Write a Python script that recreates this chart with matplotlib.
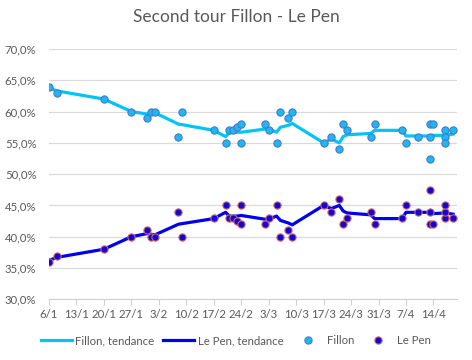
import pandas as pd
import matplotlib
matplotlib.use('Agg')
import matplotlib.pyplot as plt
import matplotlib.dates as mdates
from matplotlib.lines import Line2D
from matplotlib.ticker import FuncFormatter

# polls (one row per poll)
poll_dates = ['2017-01-06', '2017-01-08', '2017-01-20', '2017-01-27', '2017-01-31',
              '2017-02-01', '2017-02-02', '2017-02-08', '2017-02-09', '2017-02-17',
              '2017-02-20', '2017-02-21', '2017-02-22', '2017-02-23', '2017-02-24',
              '2017-02-24', '2017-03-02', '2017-03-03', '2017-03-05', '2017-03-06',
              '2017-03-08', '2017-03-09', '2017-03-17', '2017-03-19', '2017-03-21',
              '2017-03-22', '2017-03-23', '2017-03-29', '2017-03-30', '2017-04-06',
              '2017-04-07', '2017-04-10', '2017-04-13', '2017-04-13', '2017-04-13',
              '2017-04-14', '2017-04-17', '2017-04-17', '2017-04-17', '2017-04-19']
fillon = [64, 63, 62, 60, 59, 60, 60, 56, 60, 57,
          55, 57, 57, 57.5, 58, 55, 58, 57, 55, 60,
          59, 60, 55, 56, 54, 58, 57, 56, 58, 57,
          55, 56, 58, 56, 52.5, 58, 57, 56, 55, 57]
lepen = [36, 37, 38, 40, 41, 40, 40, 44, 40, 43,
         45, 43, 43, 42.5, 42, 45, 42, 43, 45, 40,
         41, 40, 45, 44, 46, 42, 43, 44, 42, 43,
         45, 44, 42, 44, 47.5, 42, 43, 44, 45, 43]

# trend (one value per poll date)
trend_dates = ['2017-01-06', '2017-01-08', '2017-01-20', '2017-01-27', '2017-01-31',
               '2017-02-01', '2017-02-02', '2017-02-08', '2017-02-09', '2017-02-17',
               '2017-02-20', '2017-02-21', '2017-02-22', '2017-02-23', '2017-02-24',
               '2017-03-02', '2017-03-03', '2017-03-05', '2017-03-06', '2017-03-08',
               '2017-03-09', '2017-03-17', '2017-03-19', '2017-03-21', '2017-03-22',
               '2017-03-23', '2017-03-29', '2017-03-30', '2017-04-06', '2017-04-07',
               '2017-04-10', '2017-04-13', '2017-04-14', '2017-04-17', '2017-04-19']
fillon_trend = [63.8, 63.3, 62.0, 60.0, 59.6, 59.7, 59.8, 58.0, 57.9, 57.0,
                56.0, 56.6, 56.7, 56.7, 56.7, 57.2, 57.2, 56.7, 57.5, 57.8,
                58.1, 55.0, 55.6, 55.0, 56.0, 56.3, 56.5, 57.0, 57.0, 56.1,
                56.1, 56.1, 56.2, 56.2, 56.4]
lepen_trend = [36.2, 36.7, 38.0, 40.0, 40.5, 40.4, 40.3, 42.0, 42.1, 42.9,
               43.9, 43.3, 43.3, 43.3, 43.4, 42.8, 42.8, 43.3, 42.6, 42.2,
               41.9, 45.0, 44.5, 45.0, 44.1, 43.8, 43.5, 42.9, 42.9, 43.9,
               43.9, 43.9, 43.7, 43.8, 43.6]

title = 'Second tour Fillon - Le Pen'
c_fillon = '#00C4F8'
c_lepen = '#0000F0'
grey = '#595959'

plt.rcParams['font.family'] = ['Lato', 'DejaVu Sans']

pd_poll = pd.to_datetime(poll_dates)
pd_trend = pd.to_datetime(trend_dates)

fig = plt.figure(figsize=(4.72, 3.6), dpi=100)
ax = fig.add_axes([0.1038, 0.1686, 0.8644, 0.6953])

ax.plot(pd_trend, fillon_trend, color=c_fillon, lw=2.3, zorder=3, solid_joinstyle='round')
ax.plot(pd_trend, lepen_trend, color=c_lepen, lw=2.3, zorder=3, solid_joinstyle='round')
ax.plot(pd_poll, fillon, ls='none', marker='o', ms=5.2, mfc='#1CB8F0', mec='#4A78C8', mew=0.8, zorder=4)
ax.plot(pd_poll, lepen, ls='none', marker='o', ms=5.2, mfc='#0A0AD8', mec='#D86060', mew=0.8, zorder=4)

ax.set_xlim(pd.Timestamp('2017-01-06'), pd.Timestamp('2017-04-20'))
ax.set_ylim(30, 70)
ax.set_yticks(range(30, 71, 5))
ax.yaxis.set_major_formatter(FuncFormatter(lambda v, p: ('%.1f%%' % v).replace('.', ',')))
ax.set_xticks(pd.date_range('2017-01-06', '2017-04-14', freq='7D'))
ax.xaxis.set_major_formatter(FuncFormatter(
    lambda v, p: '%d/%d' % (mdates.num2date(v).day, mdates.num2date(v).month)))

ax.grid(axis='y', color='#D9D9D9', lw=0.8, zorder=0)
for s in ['top', 'right', 'left']:
    ax.spines[s].set_visible(False)
ax.spines['bottom'].set_color('#D0D0D0')
ax.spines['bottom'].set_linewidth(0.8)
ax.tick_params(axis='y', length=0, labelsize=8.2, labelcolor=grey, pad=9)
ax.tick_params(axis='x', length=4, color='#D0D0D0', labelsize=8.2, labelcolor=grey, pad=3)

fig.text(0.5, 0.952, title, ha='center', va='center', fontsize=12.5, color=grey)

handles = [Line2D([], [], color=c_fillon, lw=2.3),
           Line2D([], [], color=c_lepen, lw=2.3),
           Line2D([], [], ls='none', marker='o', ms=5.2, mfc='#1CB8F0', mec='#4A78C8', mew=0.8),
           Line2D([], [], ls='none', marker='o', ms=5.2, mfc='#0A0AD8', mec='#D86060', mew=0.8)]
labels = ['Fillon, tendance', 'Le Pen, tendance', 'Fillon', 'Le Pen']
fig.legend(handles, labels, loc='center', bbox_to_anchor=(0.5, 0.053), ncol=4, frameon=False,
           fontsize=8.2, labelcolor=grey, handlelength=2.7, columnspacing=0.8, handletextpad=0.3)

fig.savefig('out.png', dpi=100)
